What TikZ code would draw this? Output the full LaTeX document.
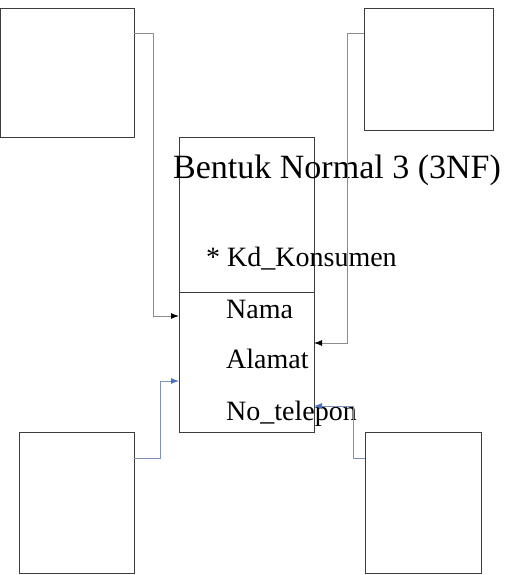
\documentclass[tikz,border=0pt]{standalone}
\usepackage{fontspec}
\setmainfont{Liberation Serif}
\usetikzlibrary{arrows.meta,positioning,calc}
\definecolor{boxGray}{RGB}{60,60,60}
\definecolor{linkGray}{RGB}{140,140,140}
\definecolor{linkBlue}{RGB}{68,114,196}
\definecolor{linkPale}{RGB}{125,145,185}
\tikzset{
  ent/.style={draw=boxGray, line width=1pt, inner sep=0pt, outer sep=0pt},
  title/.style={anchor=base west, inner sep=0pt, font=\fontsize{34}{40}\selectfont},
  attr/.style={anchor=base west, inner sep=0pt, font=\fontsize{28}{32}\selectfont},
  link/.style={draw=linkGray, line width=1pt, -{Latex[length=8pt,width=6pt,color=black]}},
  linkb/.style={draw=linkPale, line width=1pt, -{Latex[length=8pt,width=6pt,color=linkBlue]}}
}

\begin{document}
\begin{tikzpicture}[x=1pt,y=-1pt]
  \useasboundingbox (0,0) rectangle (504,575);

  \node[ent, minimum width=134pt, minimum height=128pt] (tlbox) at (67,73) {};
  \node[ent, minimum width=129pt, minimum height=121pt] (trbox) at (428.5,69.5) {};
  \node[ent, minimum width=115pt, minimum height=141pt] (blbox) at (76.5,502.5) {};
  \node[ent, minimum width=116pt, minimum height=141pt] (brbox) at (423,502.5) {};
  \node[ent, minimum width=135pt, minimum height=295pt] (main) at (246.5,284.5) {};
  \draw[ent] (main.west |- 0,292) -- (main.east |- 0,292);

  \node[title] (judul) at (173,178) {Bentuk Normal 3 (3NF)};
  \node[attr] (kd) at (206,266) {* Kd\_Konsumen};
  \node[attr] (nama) at (226,318) {Nama};
  \node[attr] (alamat) at (226,368) {Alamat};
  \node[attr] (telp) at (226,420) {No\_telepon};

  \draw[link] ([yshift=-25pt]tlbox.north east) -- ++(19,0) |- ([yshift=-31.5pt]main.west);
  \draw[link] ([yshift=-25pt]trbox.north west) -- ++(-17,0) |- ([yshift=-58.5pt]main.east);
  \draw[linkb] ([yshift=-26pt]blbox.north east) -- ++(26,0) |- ([yshift=-96.5pt]main.west);
  \draw[linkb] ([yshift=-26pt]brbox.north west) -- ++(-12,0) |- ([yshift=-121.5pt]main.east);
\end{tikzpicture}
\end{document}
